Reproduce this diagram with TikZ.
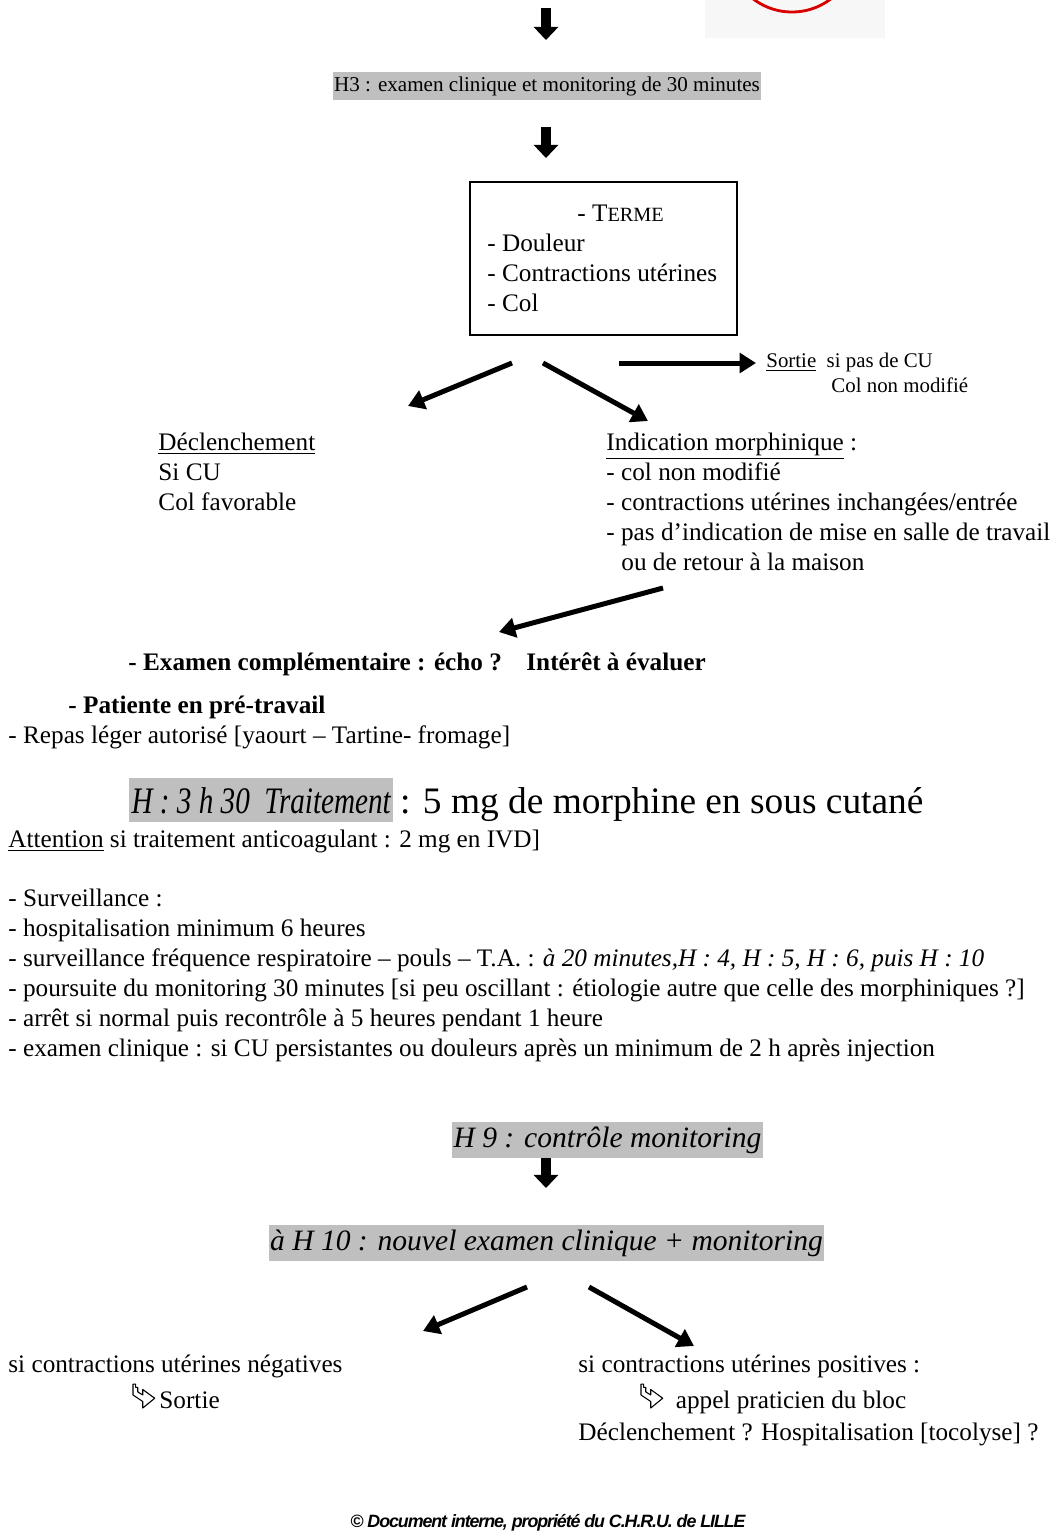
\documentclass[tikz,border=0pt]{standalone}
\usepackage{fontspec}
\setmainfont{Liberation Serif}
\newfontfamily\serreit[FakeStretch=0.78]{Liberation Serif}
\newfontfamily\piedfont[LetterSpace=-6]{Liberation Sans}
\usepackage{tikz}
\usetikzlibrary{arrows.meta}

% petite fleche creuse (crochet)
\newcommand\crochet{\tikz[baseline=0pt,x=1pt,y=1pt]\draw[line width=0.5pt,line join=round]
  (0,11)--(0,6)--(4.5,3)--(4.5,0)--(10,4.5)--(4.5,8.5)--(4.5,6)--(2.2,7.4)--(2.2,9.5)--(1.2,9.5)--(1.2,11)--cycle;}

\begin{document}
\begin{tikzpicture}[x=0.46pt,y=-0.46pt,
    txt/.style={anchor=base west,inner sep=0pt,font=\fontsize{11.6}{13.8}\selectfont},
    petit/.style={anchor=base west,inner sep=0pt,font=\fontsize{9.6}{11.5}\selectfont},
    gris/.style={fill=black!25,inner xsep=0.5pt,inner ysep=2pt},
    bloc/.style={line width=4.4pt,-{Triangle[width=11pt,length=6pt]}},
    fleche/.style={line width=2.3pt,-{Triangle[width=9pt,length=7.5pt]}}]
  \useasboundingbox (0,0) rectangle (1059,1532);

  % coin en haut
  \fill[black!3] (705,0) rectangle (885,38);
  \begin{scope}
    \clip (0,0) rectangle (1059,1532);
    \draw[red!85!black,line width=1.3pt] (792,-52) circle[radius=64];
  \end{scope}

  % H3
  \coordinate (a1) at (546,8);
  \coordinate (a1b) at (546,40);
  \draw[bloc] (a1) -- (a1b);
  \node[gris,font=\fontsize{9.7}{11}\selectfont] (h3) at (547,86) {H3 : examen clinique et monitoring de 30 minutes};
  \coordinate (a2) at (546,127);
  \coordinate (a2b) at (546,158);
  \draw[bloc] (a2) -- (a2b);

  % terme
  \node[draw,line width=0.6pt,minimum width=122.8pt,minimum height=70.4pt,inner sep=0pt] (terme) at (603.5,258.5) {};
  \node[txt] (t0) at (577,221) {- T\fontsize{9.3}{11}\selectfont ERME};
  \node[txt] (t1) at (487,251) {- Douleur};
  \node[txt] (t2) at (487,281) {- Contractions utérines};
  \node[txt] (t3) at (487,311) {- Col};

  \coordinate (g1) at (512,363);
  \coordinate (g2) at (408,406);
  \coordinate (d1) at (543,363);
  \coordinate (d2) at (648,421);
  \coordinate (s1) at (619,363);
  \coordinate (s2) at (756,363);
  \draw[fleche] (g1) -- (g2);
  \draw[fleche] (d1) -- (d2);
  \draw[fleche] (s1) -- (s2);
  \node[petit] (sortie) at (766,367) {\underline{Sortie}\ \ si pas de CU};
  \node[petit] (colnm) at (831,392) {Col non modifié};

  % deux branches
  \node[txt] (decl) at (158,450) {\underline{Déclenchement}};
  \node[txt] (decl1) at (158,480) {Si CU};
  \node[txt] (decl2) at (158,510) {Col favorable};

  \node[txt] (indic) at (606,450) {\underline{Indication morphinique} :};
  \node[txt] (ind1) at (606,480) {- col non modifié};
  \node[txt] (ind2) at (606,510) {- contractions utérines inchangées/entrée};
  \node[txt] (ind3) at (606,540) {- pas d’indication de mise en salle de travail};
  \node[txt] (ind4) at (621,570) {ou de retour à la maison};

  \coordinate (m1) at (663,588);
  \coordinate (m2) at (499,632);
  \draw[fleche] (m1) -- (m2);

  \node[txt,font=\bfseries\fontsize{11.6}{13.8}\selectfont] (exam) at (128,670) {- Examen complémentaire : écho ?};
  \node[txt,font=\bfseries\fontsize{11.6}{13.8}\selectfont] (interet) at (526,670) {Intérêt à évaluer};
  \node[txt,font=\bfseries\fontsize{11.6}{13.8}\selectfont] (patiente) at (68,713) {- Patiente en pré-travail};
  \node[txt] (repas) at (8,743) {- Repas léger autorisé [yaourt – Tartine- fromage]};

  % traitement
  \node[gris,anchor=base west,inner ysep=4pt,inner xsep=1pt,font=\serreit\itshape\fontsize{17.2}{19}\selectfont] (trait) at (129,813) {H : 3 h 30\ \ Traitement};
  \node[anchor=base west,inner sep=0pt,font=\fontsize{17.2}{19}\selectfont] (dose) at (trait.base east) {\,: 5 mg de morphine en sous cutané};
  \node[txt] (attention) at (8,847) {\underline{Attention} si traitement anticoagulant : 2 mg en IVD]};

  % surveillance
  \node[txt] (surv) at (8,906) {- Surveillance :};
  \node[txt] (surv1) at (8,936) {- hospitalisation minimum 6 heures};
  \node[txt] (surv2) at (8,966) {- surveillance fréquence respiratoire – pouls – T.A. : \textit{à 20 minutes,H : 4, H : 5, H : 6, puis H : 10}};
  \node[txt] (surv3) at (8,996) {- poursuite du monitoring 30 minutes [si peu oscillant : étiologie autre que celle des morphiniques ?]};
  \node[txt] (surv4) at (8,1026) {- arrêt si normal puis recontrôle à 5 heures pendant 1 heure};
  \node[txt] (surv5) at (8,1056) {- examen clinique : si CU persistantes ou douleurs après un minimum de 2 h après injection};

  % H9, H10
  \node[gris,font=\itshape\fontsize{13.6}{16}\selectfont] (h9) at (607.5,1140) {H 9 : contrôle monitoring};
  \coordinate (a3) at (546,1158);
  \coordinate (a3b) at (546,1188);
  \draw[bloc] (a3) -- (a3b);
  \node[gris,font=\itshape\fontsize{13.6}{16}\selectfont] (h10) at (546.5,1243) {à H 10 : nouvel examen clinique + monitoring};

  \coordinate (n1) at (527,1287);
  \coordinate (n2) at (423,1331);
  \coordinate (p1) at (589,1287);
  \coordinate (p2) at (694,1346);
  \draw[fleche] (n1) -- (n2);
  \draw[fleche] (p1) -- (p2);

  \node[txt] (neg) at (8,1372) {si contractions utérines négatives};
  \node[txt] (negs) at (132,1408) {\crochet\,Sortie};
  \node[txt] (pos) at (578,1372) {si contractions utérines positives :};
  \node[txt] (posa) at (640,1408) {\crochet\ \ appel praticien du bloc};
  \node[txt] (posd) at (578,1440) {Déclenchement ? Hospitalisation [tocolyse] ?};

  % pied de page
  \node[anchor=base,inner sep=0pt,font=\piedfont\bfseries\itshape\fontsize{8.2}{10}\selectfont] (pied) at (548,1527) {© Document interne, propriété du C.H.R.U. de LILLE};
\end{tikzpicture}
\end{document}
